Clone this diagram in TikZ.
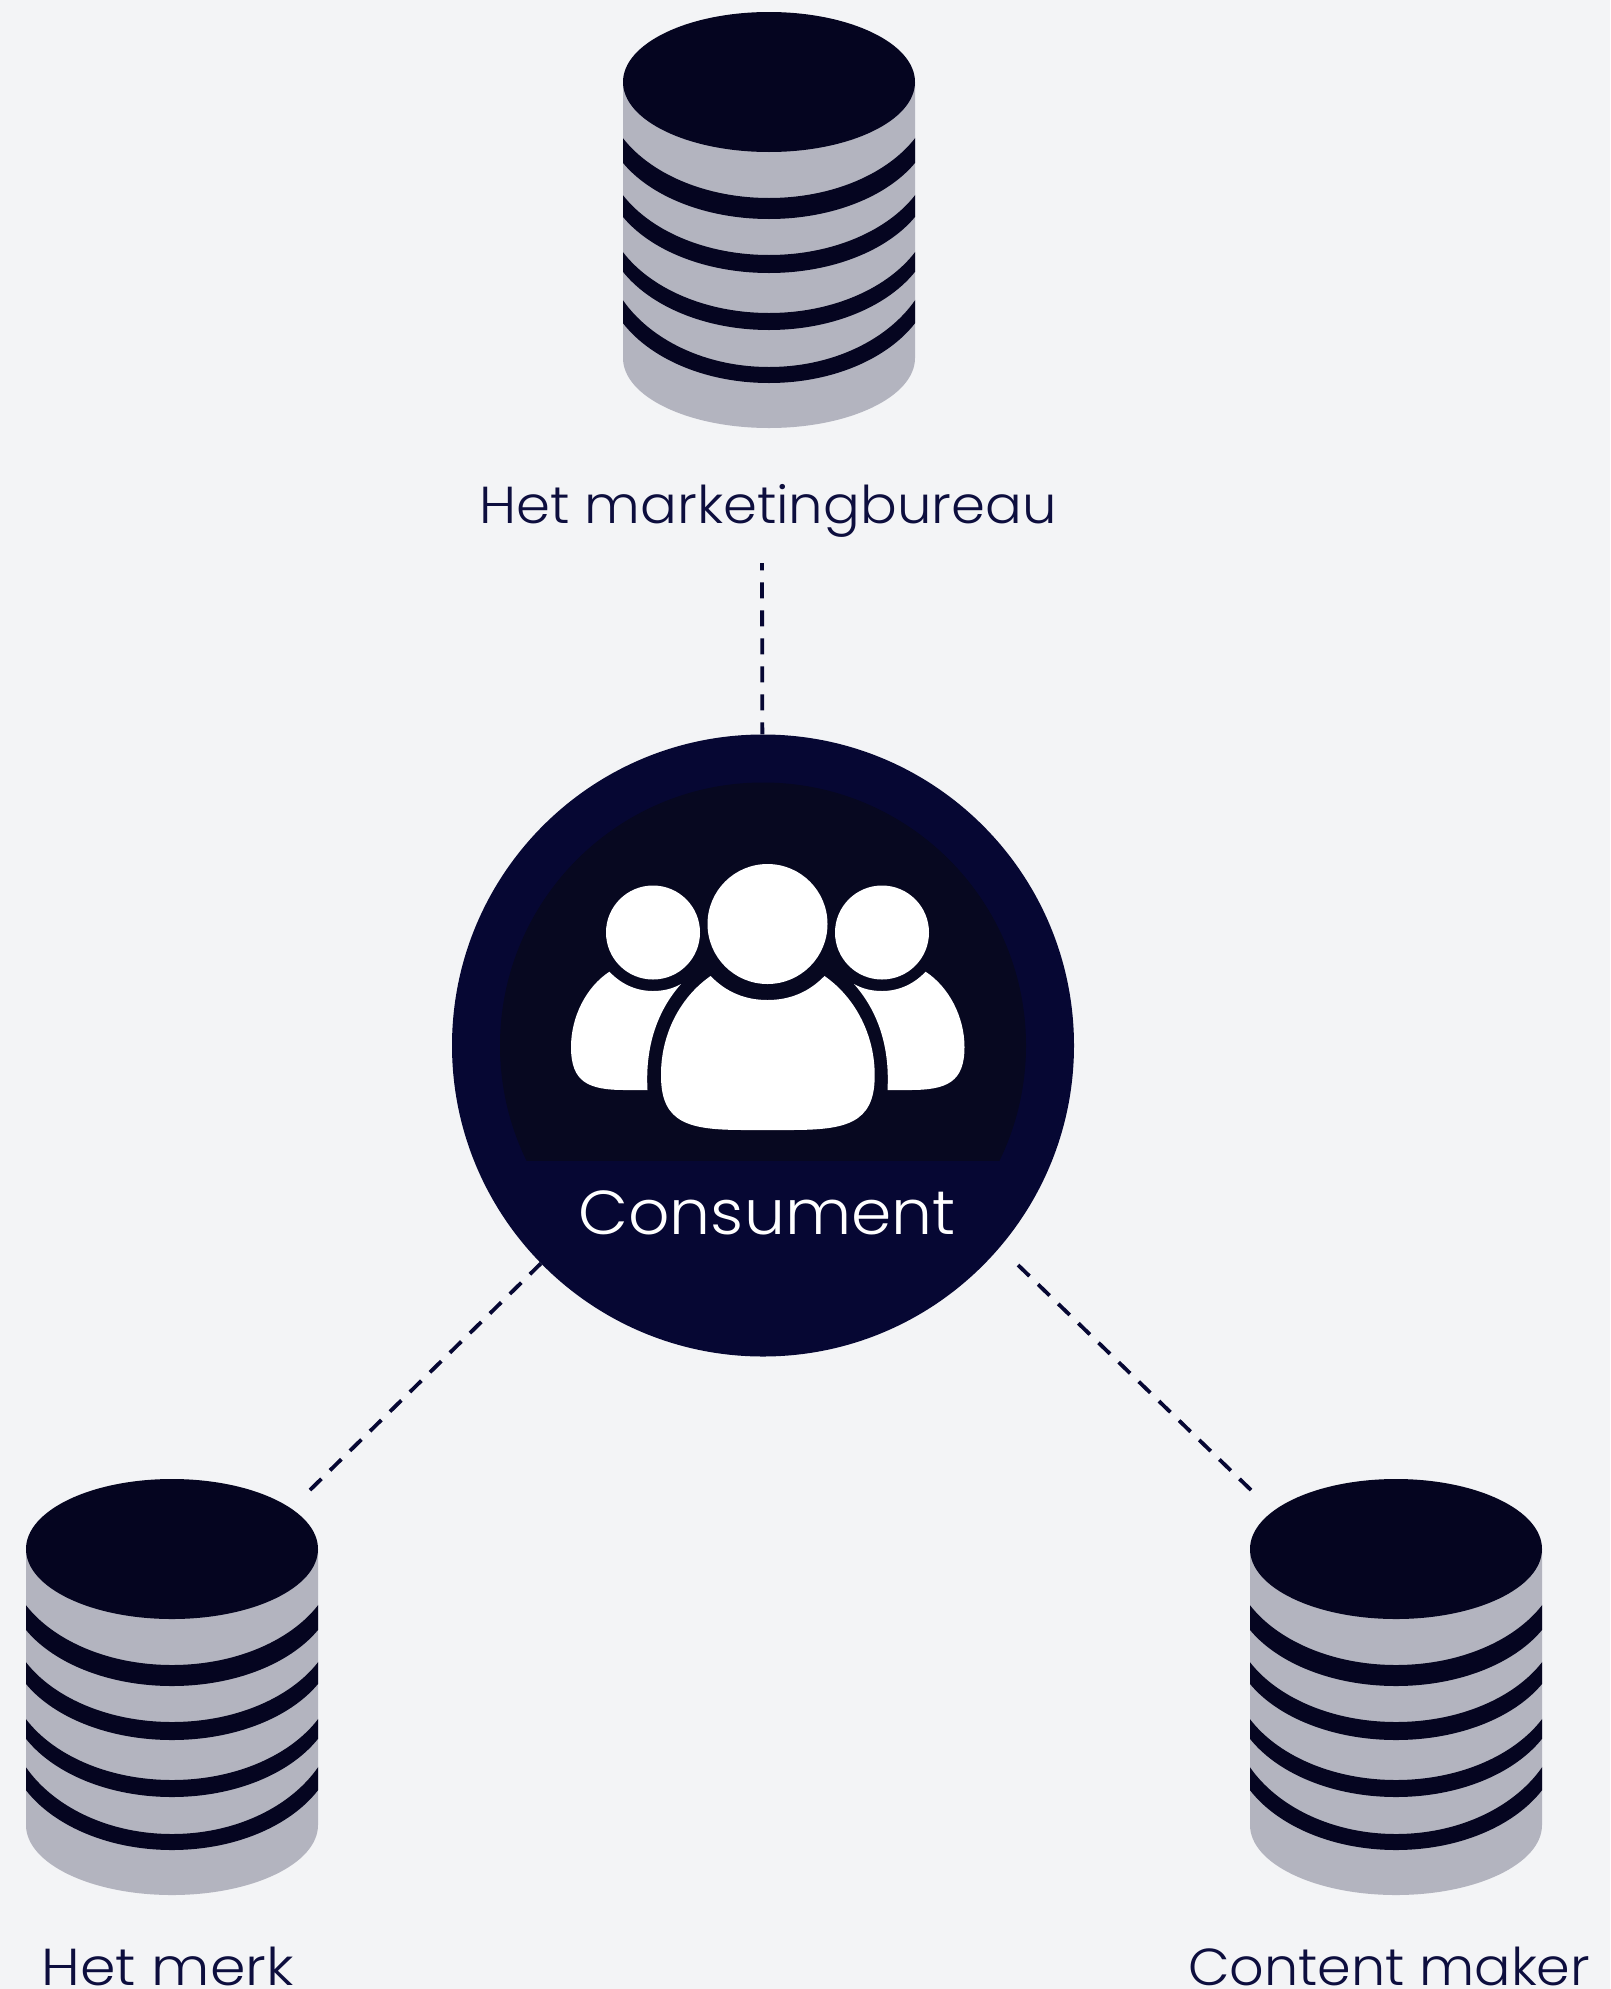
\documentclass[tikz,border=0pt]{standalone}
\usepackage{graphicx}
\usepackage{fontspec}
\setmainfont{Poppins Light}
\definecolor{bgc}{HTML}{F3F4F6}
\definecolor{cylgray}{HTML}{B3B4BF}
\definecolor{cyldark}{HTML}{050520}
\definecolor{outerc}{HTML}{060733}
\definecolor{innerc}{HTML}{070820}
\definecolor{labelc}{HTML}{0D0E3E}
\tikzset{
  conn/.style={draw=outerc,line width=3.8pt,dash pattern=on 16pt off 12pt},
  lab/.style={text=labelc,anchor=base,inner sep=0pt,font=\fontsize{52}{60}\selectfont},
  hub/.style={circle,fill=outerc,minimum size=622pt,inner sep=0pt},
  person/.style={fill=white,draw=none},
}
\newcommand{\fitw}[2]{\resizebox{#1pt}{\height}{#2}}
\newcommand{\dbband}[4]{%
  \fill[cyldark] (-165,#3) arc[start angle=180,end angle=0,x radius=165pt,y radius=#4 pt]
    -- (165,#1) arc[start angle=0,end angle=180,x radius=165pt,y radius=#2 pt] -- cycle;}
\newcommand{\dbcyl}[2]{%
  \begin{scope}[shift={(#1,#2)}]
    \fill[cylgray] (-146,0) -- (-146,276) arc[start angle=180,end angle=0,x radius=146pt,y radius=70pt] -- (146,0) -- cycle;
    \begin{scope}
      \clip (-146,0) rectangle (146,360);
      \dbband{4}{112}{32}{105}
      \dbband{61}{112}{86}{105}
      \dbband{117}{114}{139}{109}
      \dbband{160}{125}{189}{112}
    \end{scope}
    \fill[cyldark] (0,0) ellipse[x radius=146pt,y radius=70pt];
  \end{scope}}
\begin{document}
\begin{tikzpicture}[x=1pt,y=1pt,yscale=-1]
\useasboundingbox (0,0) rectangle (1610,1989);
\fill[bgc] (0,0) rectangle (1610,1989);
% cylinders
\dbcyl{769}{82}
\dbcyl{172}{1549}
\dbcyl{1396}{1549}
% hub
\node[hub] (consument) at (763,1045.5) {};
\begin{scope}
  \clip (0,0) rectangle (1610,1160);
  \fill[innerc] (763,1045.5) circle[radius=263pt];
\end{scope}
% people
\fill[person] (767.5,924) circle[radius=60pt];
\fill[person] (653,932.5) circle[radius=47pt];
\fill[person] (882,932.5) circle[radius=47pt];
\fill[person] (710.6,976) .. controls (726,992) and (745,1000) .. (767.5,1000)
  .. controls (790,1000) and (809,992) .. (824.5,976)
  .. controls (856,998) and (875,1036) .. (874.7,1076)
  .. controls (874.7,1124) and (845,1130) .. (790,1130)
  -- (745,1130) .. controls (690,1130) and (661,1124) .. (661,1076)
  .. controls (660.5,1036) and (679,998) .. (710.6,976) -- cycle;
\fill[person] (609.4,971.7) .. controls (621,984) and (636,991) .. (653,991)
  .. controls (664,991) and (673,988.5) .. (681,984)
  .. controls (658,1010) and (645,1045) .. (647.5,1090)
  -- (625,1090) .. controls (588,1090) and (571,1082) .. (571,1047)
  .. controls (571,1017) and (586,987) .. (609.4,971.7) -- cycle;
\fill[person] (925.6,971.7) .. controls (914,984) and (899,991) .. (882,991)
  .. controls (871,991) and (862,988.5) .. (854,984)
  .. controls (877,1010) and (890,1045) .. (887.5,1090)
  -- (910,1090) .. controls (947,1090) and (964.5,1082) .. (964.5,1047)
  .. controls (964.5,1017) and (949,987) .. (925.6,971.7) -- cycle;
% labels
\node[lab,font=\fontsize{62}{70}\selectfont,text=white] (lconsument) at (767,1234) {\fitw{377}{Consument}};
\node[lab] (lmkt) at (768,523) {\fitw{577}{Het marketingbureau}};
\node[lab] (lmerk) at (167.7,1985) {\fitw{252}{Het merk}};
\node[lab] (lmaker) at (1389,1985) {\fitw{402}{Content maker}};
% connectors
\coordinate (topend) at (762,563);
\coordinate (leftend) at (310,1490);
\coordinate (rightend) at (1251,1490);
\coordinate (righthub) at (1018,1265);
\draw[conn,dash phase=8.7pt] (topend) -- (consument);
\draw[conn] (leftend) -- (consument);
\draw[conn] (rightend) -- (righthub);
\end{tikzpicture}
\end{document}
